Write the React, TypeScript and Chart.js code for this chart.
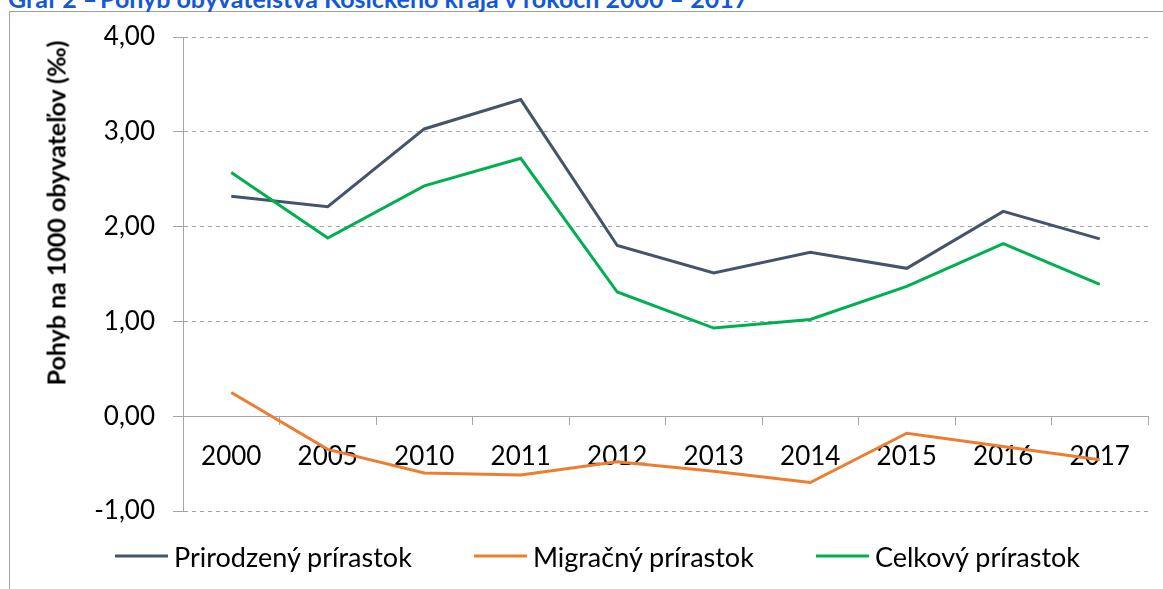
import React, { useEffect, useRef } from "react";
import { Chart, registerables } from "chart.js";

Chart.register(...registerables);

const categories = ["2000", "2005", "2010", "2011", "2012", "2013", "2014", "2015", "2016", "2017"];
const prirodzeny = [2.32, 2.21, 3.03, 3.34, 1.8, 1.51, 1.73, 1.56, 2.16, 1.87];
const migracny = [0.25, -0.35, -0.6, -0.62, -0.48, -0.58, -0.7, -0.18, -0.32, -0.46];
const celkovy = [2.57, 1.88, 2.43, 2.72, 1.31, 0.93, 1.02, 1.37, 1.82, 1.39];
const seriesNames = ["Prirodzený prírastok", "Migračný prírastok", "Celkový prírastok"];
const seriesColors = ["#44546A", "#ED7D31", "#00B050"];
const yTicks = [-1, 0, 1, 2, 3, 4];
const titlePrefix = "Graf 2 –";
const titleText = "Pohyb obyvateľstva Košického kraja v rokoch 2000 – 2017";
const yTitle = "Pohyb na 1000 obyvateľov (‰)";

const FONT = "Lato, 'Open Sans', sans-serif";
const GRID = "#a6a6a6";

export default function App() {
  const canvasRef = useRef<HTMLCanvasElement | null>(null);

  useEffect(() => {
    const canvas = canvasRef.current;
    if (!canvas) return;
    const seriesData = [prirodzeny, migracny, celkovy];
    const chart = new Chart(canvas, {
      type: "line",
      data: {
        labels: categories,
        datasets: seriesData.map((d, i) => ({
          label: seriesNames[i],
          data: d,
          borderColor: seriesColors[i],
          backgroundColor: seriesColors[i],
          borderWidth: 3,
          pointRadius: 0,
          pointHoverRadius: 0,
          tension: 0,
          fill: false,
          order: seriesData.length - i,
        })),
      },
      options: {
        responsive: false,
        animation: false,
        layout: { padding: { left: 0, right: 15, top: 37, bottom: 78 } },
        plugins: {
          legend: { display: false },
          tooltip: { enabled: false },
          title: { display: false },
        },
        scales: {
          x: {
            type: "category",
            position: { y: 0 } as any,
            offset: true,
            grid: {
              display: true,
              drawOnChartArea: false,
              drawTicks: true,
              tickLength: 8,
              offset: true,
              color: GRID,
              tickColor: GRID,
            },
            border: { display: true, color: GRID, width: 1 },
            ticks: {
              color: "#000",
              font: { family: FONT, size: 26 },
              padding: 17,
              maxRotation: 0,
              autoSkip: false,
            },
          },
          y: {
            min: yTicks[0],
            max: yTicks[yTicks.length - 1],
            afterFit: (scale: any) => {
              scale.width = 183;
            },
            afterBuildTicks: (scale: any) => {
              scale.ticks = yTicks.map((v) => ({ value: v }));
            },
            grid: {
              color: GRID,
              lineWidth: 1,
              drawTicks: true,
              tickLength: 10,
              tickColor: GRID,
              tickBorderDash: [],
            },
            border: { display: true, color: GRID, width: 1, dash: [4, 4] },
            ticks: {
              color: "#000",
              font: { family: FONT, size: 26 },
              padding: 18,
              callback: (v: any) => Number(v).toFixed(2).replace(".", ","),
            },
          },
        },
      },
    });
    return () => chart.destroy();
  }, []);

  const titleStyle: React.CSSProperties = {
    position: "absolute",
    top: -14,
    fontSize: 25,
    lineHeight: 1,
    fontWeight: 700,
    color: "#1558d6",
    whiteSpace: "nowrap",
  };

  return (
    <div
      style={{
        position: "fixed",
        left: 0,
        top: 0,
        width: 1163,
        height: 589,
        overflow: "hidden",
        background: "#fff",
        fontFamily: FONT,
      }}
    >
      <div
        style={{
          position: "absolute",
          left: 9,
          top: 11,
          width: 1300,
          height: 700,
          borderLeft: "1px solid #a0a0a0",
          borderTop: "1px solid #a0a0a0",
        }}
      />
      <div style={{ ...titleStyle, left: 8 }}>{titlePrefix}</div>
      <div style={{ ...titleStyle, left: 100 }}>{titleText}</div>
      <canvas
        ref={canvasRef}
        width={1163}
        height={589}
        style={{ position: "absolute", left: 0, top: 0, width: 1163, height: 589 }}
      />
      <div
        style={{
          position: "absolute",
          left: 56,
          top: 213,
          transform: "translate(-50%, -50%) rotate(-90deg)",
          fontSize: 25,
          lineHeight: 1,
          fontWeight: 700,
          color: "#000",
          whiteSpace: "nowrap",
        }}
      >
        {yTitle}
      </div>
      <div
        style={{
          position: "absolute",
          left: 115,
          top: 556,
          transform: "translateY(-50%)",
          display: "flex",
          alignItems: "center",
          fontSize: 27,
          lineHeight: 1,
          color: "#000",
          whiteSpace: "nowrap",
        }}
      >
        {seriesNames.map((name, i) => (
          <div
            key={name}
            style={{ display: "flex", alignItems: "center", marginRight: i < seriesNames.length - 1 ? 62 : 0 }}
          >
            <div style={{ width: 53, height: 3, background: seriesColors[i], marginRight: 6 }} />
            <span>{name}</span>
          </div>
        ))}
      </div>
    </div>
  );
}
